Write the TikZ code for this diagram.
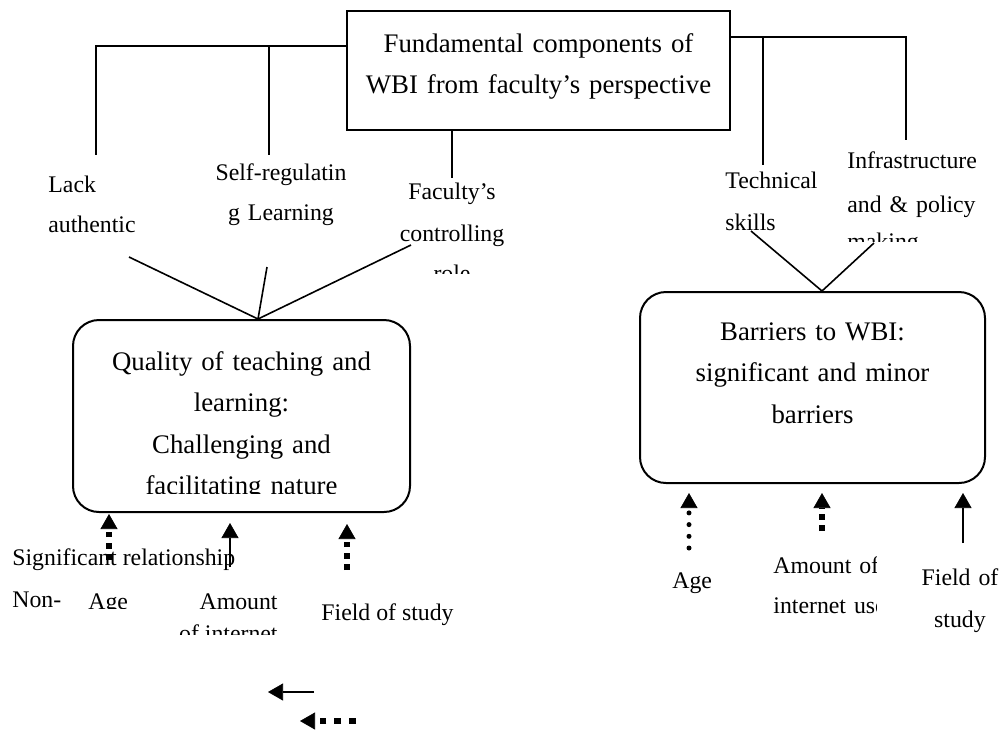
\documentclass[tikz,border=0pt]{standalone}
\usepackage{fontspec}
\setmainfont{Liberation Serif}[Ligatures=NoCommon]
\usetikzlibrary{arrows.meta,calc}
\begin{document}
\begin{tikzpicture}[x=0.5pt,y=-0.5pt,
  conn/.style={line width=1pt},
  vline/.style={line width=0.8pt},
  bigbox/.style={draw, line width=1pt, inner sep=0pt, align=center, anchor=base,
    font=\fontsize{13.4}{20.8}\selectfont},
  roundbox/.style={bigbox, rounded corners=13pt},
  lab/.style={inner sep=0pt, anchor=base west, font=\fontsize{11.9}{20.2}\selectfont},
  tip/.style={-{Triangle[width=8.5pt,length=7.5pt,line width=0.3pt]}},
  solidarr/.style={tip, line width=0.9pt},
  dasharr/.style={tip, line width=2.7pt, dash pattern=on 2.8pt off 2.9pt},
  dotarr/.style={tip, line width=2.5pt, line cap=round, dash pattern=on 0pt off 5.85pt},
]
\useasboundingbox (0,0) rectangle (1002,730);

% main boxes
\node[bigbox, text width=185pt, minimum width=191.5pt, text height=20.5pt, text depth=39pt]
  (top) at (538.5,52) {Fundamental components of\\WBI from faculty’s perspective};
\node[roundbox, text width=160pt, minimum width=168.5pt, text height=25pt, text depth=71pt]
  (q) at (241.5,370) {Quality of teaching and\\learning:\\Challenging and\\facilitating nature};
\fill[white] (140,493.5) rectangle (345,509);
\node[roundbox, text width=165pt, minimum width=172.5pt, text height=24pt, text depth=71.5pt]
  (b) at (812.5,340) {Barriers to WBI:\\significant and minor\\barriers};

% upper labels
\node[lab, text width=60pt, align=left, font=\fontsize{11.9}{20}\selectfont] (lack) at (48,192) {Lack\\authentic};
\node[lab, anchor=base, text width=72pt, align=center, font=\fontsize{11.9}{20}\selectfont] (self) at (281,180) {Self-regulatin\\g Learning};
\begin{scope}
  \clip (380,140) rectangle (530,273.5);
  \node[lab, anchor=base, text width=60pt, align=center, font=\fontsize{11.9}{21}\selectfont] (fac) at (452,199) {Faculty’s\\controlling\\[-1pt]role};
\end{scope}
\node[lab, text width=50pt, align=left, font=\fontsize{11.9}{21}\selectfont] (tech) at (725,188) {Technical\\skills};
\begin{scope}
  \clip (840,140) rectangle (1002,241.5);
  \node[lab, text width=72pt, align=left, font=\fontsize{11.9}{22}\selectfont] (infra) at (847,168)
    {Infrastructure\\\makebox[70pt][s]{and \& policy}\\[-3.5pt]making};
\end{scope}

% lower labels
\node[lab] (sig) at (12,565) {Significant relationship};
\node[lab] (non) at (12,607) {Non-};
\begin{scope}
  \clip (80,580) rectangle (140,608);
  \node[lab] (age1) at (88,609) {Age};
\end{scope}
\begin{scope}
  \clip (170,585) rectangle (300,634.5);
  \node[lab, anchor=base east, text width=52pt, align=flush right, font=\fontsize{11.9}{16}\selectfont] (amt1) at (278,609) {Amount\\of internet};
\end{scope}
\node[lab] (field1) at (321,620) {Field of study};
\node[lab] (age2) at (672,588) {Age};
\begin{scope}
  \clip (760,545) rectangle (876,630);
  \node[lab, text width=60pt, align=left, font=\fontsize{11.9}{20}\selectfont] (amt2) at (773,573) {Amount of\\internet use};
\end{scope}
\node[lab, anchor=base, text width=45pt, align=center, font=\fontsize{11.9}{21}\selectfont] (field2) at (960,585) {Field of\\study};

% tree connectors from the top box
\coordinate (hl) at ([yshift=-18pt]top.north west);
\coordinate (hr) at ([yshift=-13.5pt]top.north east);
\coordinate (e1) at (96,155);
\coordinate (e2) at (269,155);
\coordinate (e3) at (452,178);
\coordinate (e4) at (763,165);
\coordinate (e5) at (906,140);
\draw[conn] (hl) -| (e1);
\draw[conn] (hl -| e2) -- (e2);
\draw[conn] (top.south -| e3) -- (e3);
\draw[conn] (hr) -| (e5);
\draw[conn] (hr -| e4) -- (e4);

% converging lines
\coordinate (qa) at ($(q.north)+(16.5,0)$);
\coordinate (s1) at (129,257);
\coordinate (s2) at (267,267);
\coordinate (s3) at (411,245);
\draw[vline] (s1) -- (qa);
\draw[vline] (s2) -- (qa);
\draw[vline] (s3) -- (qa);
\coordinate (ba) at ($(b.north)+(9.5,0)$);
\coordinate (t1) at (751,231);
\coordinate (t2) at (874,243);
\draw[vline] (t1) -- (ba);
\draw[vline] (t2) -- (ba);

% arrows into the boxes
\coordinate (a1) at (109,560);
\coordinate (a2) at (230,567);
\coordinate (a3) at (347,570);
\coordinate (a4) at (689,548);
\coordinate (a5) at (822,531);
\coordinate (a6) at (963,543);
\draw[dasharr] (a1) -- ([yshift=-0.5pt]q.south -| a1);
\draw[solidarr] (a2) -- ([yshift=-5pt]q.south -| a2);
\draw[dasharr] (a3) -- ([yshift=-5.5pt]q.south -| a3);
\draw[dotarr] (a4) -- ([yshift=-4.5pt]b.south -| a4);
\draw[dasharr] (a5) -- ([yshift=-4.5pt]b.south -| a5);
\draw[solidarr] (a6) -- ([yshift=-4.5pt]b.south -| a6);

% legend arrows
\coordinate (l1s) at (314,692);
\coordinate (l1e) at (268,692);
\coordinate (l2s) at (356,721);
\coordinate (l2e) at (300,721);
\draw[solidarr] (l1s) -- (l1e);
\draw[dasharr, dash pattern=on 3.4pt off 4pt] (l2s) -- (l2e);
\end{tikzpicture}
\end{document}
